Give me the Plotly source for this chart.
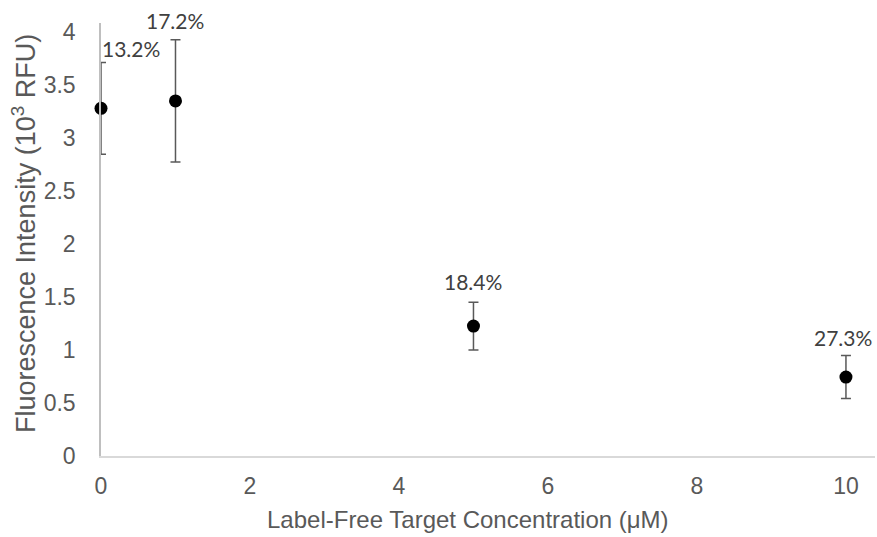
import plotly.graph_objects as go

# Label-free target concentration (µM) and mean fluorescence (10^3 RFU)
concentration = [0, 1, 5, 10]
intensity = [3.28, 3.35, 1.226, 0.745]
cv_percent = [13.2, 17.2, 18.4, 27.3]

# Error bars are the coefficient of variation applied to each mean
errors = [m * cv / 100 for m, cv in zip(intensity, cv_percent)]
labels = [f"{cv:.1f}%" for cv in cv_percent]

grey = "#595959"
tick_font = dict(family="Liberation Sans, Arial", size=23, color=grey)
title_family = "Liberation Sans, Arial"
label_font = dict(family="Lato, Calibri, sans-serif", size=21, color="#404040")

fig = go.Figure()
fig.add_trace(go.Scatter(
    x=concentration,
    y=intensity,
    mode="markers",
    marker=dict(color="black", size=13),
    error_y=dict(type="data", array=errors, visible=True,
                 color=grey, thickness=1.5, width=5),
    cliponaxis=False,
    showlegend=False,
))

# CV labels sit just above the upper error cap (pixel nudges per label)
label_place = [("left", -1, 14), ("center", 0, 19), ("center", 0, 21), ("center", -3, 18)]
for xv, yv, err, txt, (anchor, xs, ys) in zip(concentration, intensity, errors, labels, label_place):
    fig.add_annotation(
        x=xv, y=yv + err, text=txt, showarrow=False,
        xanchor=anchor, yanchor="middle", xshift=xs, yshift=ys,
        font=label_font,
    )

# Axis titles
fig.add_annotation(
    xref="paper", yref="paper", x=0.474, y=-0.1478,
    text="Label-Free Target Concentration (μM)", showarrow=False,
    xanchor="center", yanchor="middle",
    font=dict(family=title_family, size=24, color=grey),
)
fig.add_annotation(
    xref="paper", yref="paper", x=-0.0995, y=0.515,
    text="Fluorescence Intensity (10<sup>3</sup> RFU)", showarrow=False,
    textangle=-90, xanchor="center", yanchor="middle",
    font=dict(family=title_family, size=27, color=grey),
)

fig.update_layout(
    width=877, height=537,
    margin=dict(l=101, r=2, t=23, b=81),
    paper_bgcolor="white", plot_bgcolor="white",
    xaxis=dict(
        range=[0, 10.39], tickvals=[0, 2, 4, 6, 8, 10],
        showgrid=False, zeroline=False,
        showline=True, linecolor="#d9d9d9", linewidth=1.5,
        ticks="", ticklabelstandoff=9, tickfont=tick_font,
    ),
    yaxis=dict(
        range=[0, 4.085], tickvals=[0, 0.5, 1, 1.5, 2, 2.5, 3, 3.5, 4],
        showgrid=False, zeroline=False,
        showline=True, linecolor="#bfbfbf", linewidth=1.5,
        ticks="", ticklabelstandoff=19, tickfont=tick_font,
    ),
)

fig.write_html("out.html")
